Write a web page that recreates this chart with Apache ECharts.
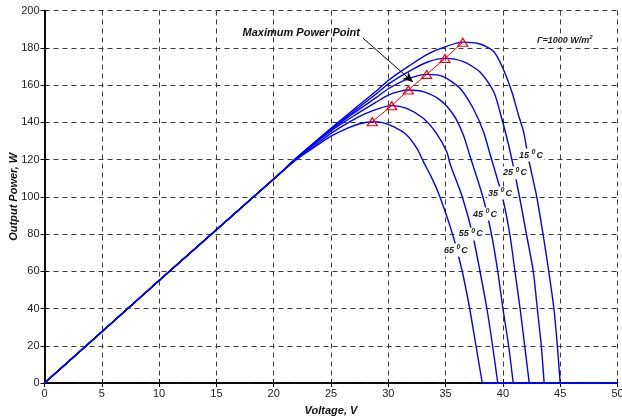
<!DOCTYPE html>
<html>
<head>
<meta charset="utf-8">
<title>Output power vs voltage</title>
<script src="https://cdn.jsdelivr.net/npm/echarts@6/dist/echarts.min.js"></script>
<style>
  html, body { margin: 0; padding: 0; background: #fff; }
  #chart { width: 622px; height: 416px; }
</style>
</head>
<body>
<div id="chart"></div>
<script>
// shared straight part, all temperatures lie on top of each other here
var ramp = [[0, 0], [10, 55], [20, 109.5]];

// [voltage, power], one list per cell temperature
var curve15 = [[22, 121], [25, 136.8], [27, 147], [29, 157], [30, 162.5], [31.75, 170], [33.4, 176.5], [35, 180.6], [36.5, 183], [38.0, 182], [39.2, 178], [40.0, 169], [40.8, 156], [41.35, 144], [41.8, 135], [42.25, 120], [42.95, 100], [43.5, 80], [44.0, 60], [44.45, 40], [44.75, 20], [45.0, 0]];
var curve25 = [[22, 120.8], [25, 136.3], [27, 146], [29, 155.5], [30, 160.5], [32, 168], [33.5, 172.5], [34.95, 174.3], [36.55, 172.5], [38.0, 167], [39.2, 156.4], [39.9, 142], [40.5, 127.8], [40.85, 118], [41.45, 100], [42.05, 80], [42.65, 60], [43.0, 40], [43.35, 20], [43.6, 0]];
var curve35 = [[22, 120.6], [25, 135.8], [27, 145], [29, 153.5], [30, 158], [31.5, 162.8], [33.35, 165.7], [34.8, 164.5], [36.25, 158.2], [37.4, 147.5], [38.3, 135], [38.9, 122.4], [39.95, 100], [40.6, 80], [41.05, 60], [41.5, 40], [41.9, 20], [42.3, 0]];
var curve45 = [[22, 120.5], [25, 135.3], [27, 143.5], [29, 151], [30, 154.6], [31, 156.6], [31.75, 157.3], [33.05, 156.4], [34.5, 152], [35.7, 143.9], [36.55, 133.2], [37.1, 122.4], [38.25, 100], [39.0, 80], [39.55, 60], [40.0, 40], [40.5, 20], [40.9, 0]];
var curve55 = [[22, 120.3], [24, 129.5], [25, 134], [26.5, 139.8], [28, 144.6], [29.3, 147.6], [30.3, 148.9], [31.6, 147.5], [33.05, 142.1], [34.2, 134], [35.1, 124.2], [35.4, 117.5], [36.45, 100], [37.35, 80], [38.0, 60], [38.6, 40], [39.1, 20], [39.55, 0]];
var curve65 = [[22, 120], [24, 128.5], [25, 132.5], [26.5, 137], [27.5, 139.2], [28.6, 140.3], [29.5, 139.8], [30.45, 137.6], [31.6, 133.2], [32.5, 126], [33.05, 119], [33.8, 110], [34.5, 100], [35.6, 80], [36.45, 60], [37.1, 40], [37.65, 20], [38.2, 0]];
// zero power past open circuit
var tail = [[38.2, 0], [50, 0]];

var temps = ['15', '25', '35', '45', '55', '65'];
var curves = [curve15, curve25, curve35, curve45, curve55, curve65];

// maximum power points, 65 C first
var mppV = [28.6, 30.3, 31.75, 33.35, 34.95, 36.5];
var mppP = [140.3, 148.9, 157.3, 165.7, 174.3, 183];

// where the temperature tags sit, same order as temps
var tagV = [42.45, 41.05, 39.75, 38.44, 37.2, 35.9];
var tagP = [122.4, 112.8, 102, 90.7, 80, 71.4];

var xTicks = { min: 0, max: 50, step: 5 };
var yTicks = { min: 0, max: 200, step: 20 };

var chart = echarts.init(document.getElementById('chart'));

var fontFam = '"Liberation Sans", Arial, sans-serif';
var boldIt = { fontFamily: fontFam, fontWeight: 'bold', fontStyle: 'italic' };
var blue = { color: '#0000ff', width: 1.4 };

var series = [];
curves.forEach(function (c, i) {
  series.push({
    type: 'line',
    data: ramp.concat(c),
    smooth: 0.25,
    showSymbol: false,
    symbol: 'none',
    lineStyle: blue,
    z: 3,
    markPoint: {
      symbol: 'rect',
      symbolSize: 1,
      itemStyle: { color: 'rgba(0,0,0,0)' },
      data: [{
        coord: [tagV[i], tagP[i]],
        label: {
          show: true,
          position: 'inside',
          formatter: '{a|' + temps[i] + ' }{s|0}{a|C}',
          backgroundColor: '#fff',
          padding: [0, 1],
          rich: {
            a: Object.assign({ fontSize: 9, color: '#222' }, boldIt),
            s: Object.assign({ fontSize: 7, color: '#222', padding: [0, 1, 6, 0] }, boldIt)
          }
        }
      }]
    }
  });
});

series.push({
  type: 'line', data: tail, symbol: 'none', showSymbol: false,
  lineStyle: { color: '#0000ff', width: 2 }, z: 3
});

series.push({
  type: 'line',
  data: mppV.map(function (v, i) { return [v, mppP[i]]; }),
  symbol: 'triangle',
  symbolSize: [10, 8],
  showSymbol: true,
  itemStyle: { color: 'rgba(255,255,255,0)', borderColor: '#ff0000', borderWidth: 1.2 },
  lineStyle: { color: '#ff0000', width: 1 },
  z: 5,
  markLine: {
    silent: true,
    symbol: ['none', 'arrow'],
    symbolSize: [7, 10],
    label: { show: false },
    lineStyle: { color: '#000', width: 1, type: 'solid' },
    data: [[{ coord: [27.8, 185.1] }, { coord: [32.15, 161.6] }]]
  },
  markPoint: {
    symbol: 'rect',
    symbolSize: 1,
    itemStyle: { color: 'rgba(0,0,0,0)' },
    data: [
      {
        coord: [22.4, 188],
        label: Object.assign({ show: true, position: 'inside', formatter: 'Maximum Power Point', fontSize: 11, color: '#111' }, boldIt)
      },
      {
        coord: [45.4, 184.1],
        label: {
          show: true,
          position: 'inside',
          formatter: '{a|\u0393=1000 W/m}{s|2}',
          backgroundColor: '#fff',
          padding: [1, 2],
          rich: {
            a: Object.assign({ fontSize: 9, color: '#222' }, boldIt),
            s: Object.assign({ fontSize: 6, color: '#222', padding: [0, 0, 5, 0] }, boldIt)
          }
        }
      }
    ]
  }
});

var gridDash = { color: '#3a3a3a', width: 1, type: [5, 4] };
var tickIn = { show: true, inside: true, length: 4, lineStyle: { color: '#000', width: 1 } };
var axLine = { show: true, lineStyle: { color: '#000', width: 1.5 } };

var option = {
  animation: false,
  backgroundColor: '#fff',
  grid: { left: 44.5, right: 4.5, top: 10.5, bottom: 33, outerBoundsMode: 'none', containLabel: false },
  xAxis: [
    {
      type: 'value', min: xTicks.min, max: xTicks.max, interval: xTicks.step,
      name: 'Voltage, V', nameLocation: 'middle', nameGap: 22, nameMoveOverlap: false,
      nameTextStyle: Object.assign({ fontSize: 11, color: '#111' }, boldIt),
      axisLine: axLine, axisTick: tickIn,
      axisLabel: { fontFamily: fontFam, fontSize: 11, color: '#222', margin: 5 },
      splitLine: { show: true, lineStyle: gridDash }
    },
    {
      type: 'value', position: 'top', min: xTicks.min, max: xTicks.max, interval: xTicks.step,
      axisLine: axLine, axisTick: tickIn, axisLabel: { show: false }, splitLine: { show: false }
    }
  ],
  yAxis: [
    {
      type: 'value', min: yTicks.min, max: yTicks.max, interval: yTicks.step,
      name: 'Output Power, W', nameLocation: 'middle', nameGap: 25, nameMoveOverlap: false,
      nameTextStyle: Object.assign({ fontSize: 11, color: '#111' }, boldIt),
      axisLine: axLine, axisTick: tickIn,
      axisLabel: { fontFamily: fontFam, fontSize: 11, color: '#222', margin: 5 },
      splitLine: { show: true, lineStyle: gridDash }
    },
    {
      type: 'value', position: 'right', min: yTicks.min, max: yTicks.max, interval: yTicks.step,
      axisLine: axLine, axisTick: tickIn, axisLabel: { show: false }, splitLine: { show: false }
    }
  ],
  series: series
};

chart.setOption(option);
</script>
</body>
</html>
